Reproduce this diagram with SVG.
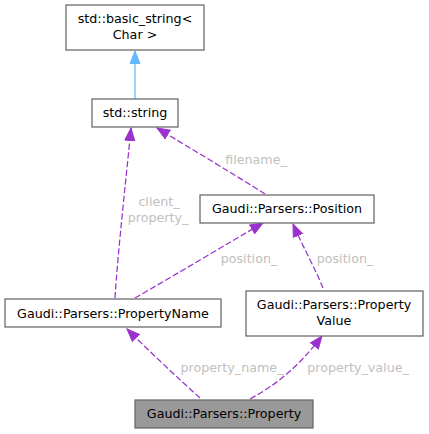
<svg xmlns="http://www.w3.org/2000/svg" width="429" height="434" viewBox="0 0 429 434">
<defs>
<style>
.node rect{fill:#ffffff;stroke:#666666;stroke-width:1.25}
.node.cur rect{fill:#999999}
text{font-family:"DejaVu Sans","Liberation Sans",sans-serif;font-size:12.7px;text-anchor:middle}
.node text{fill:#000000}
.lbl{fill:#c0c0c0}
.dep{fill:none;stroke:#9a32cd;stroke-width:1.25;stroke-dasharray:6.25,2.5}
.inh{fill:none;stroke:#63b8ff;stroke-width:1.25}
</style>
<marker id="ap" markerWidth="14" markerHeight="14" viewBox="0 0 14 12" refX="13" refY="6" orient="auto" markerUnits="userSpaceOnUse">
<path d="M0.5,1 L13,6 L0.5,11 Z" fill="#9a32cd" stroke="#9a32cd"/>
</marker>
<marker id="ab" markerWidth="14" markerHeight="14" viewBox="0 0 14 12" refX="13" refY="6" orient="auto" markerUnits="userSpaceOnUse">
<path d="M0.5,1 L13,6 L0.5,11 Z" fill="#63b8ff" stroke="#63b8ff"/>
</marker>
</defs>
<rect width="429" height="434" fill="#ffffff"/>
<g id="edges">
<path class="inh" d="M135,99 L135,51" marker-end="url(#ab)"/>
<path class="dep" d="M115,298 C118,250 126,180 131,128" marker-end="url(#ap)"/>
<text class="lbl" x="159" y="206">client_</text>
<text class="lbl" x="158" y="222">property_</text>
<path class="dep" d="M265,194 C240,178 190,148 157,128" marker-end="url(#ap)"/>
<text class="lbl" x="256" y="164">filename_</text>
<path class="dep" d="M135,298 C175,275 225,245 263,223" marker-end="url(#ap)"/>
<text class="lbl" x="249" y="263">position_</text>
<path class="dep" d="M323,288 C315,268 302,245 293,224" marker-end="url(#ap)"/>
<text class="lbl" x="345" y="263">position_</text>
<path class="dep" d="M200,398 C180,380 150,352 127,329" marker-end="url(#ap)"/>
<text class="lbl" x="232" y="372">property_name_</text>
<path class="dep" d="M250,399 C285,380 305,358 322,336" marker-end="url(#ap)"/>
<text class="lbl" x="358" y="372">property_value_</text>
</g>
<g id="node_basic_string" class="node">
<rect x="66" y="5" width="138" height="45"/>
<text x="135" y="23">std::basic_string&lt;</text>
<text x="135" y="39">Char &gt;</text>
</g>
<g id="node_string" class="node">
<rect x="92" y="99" width="86" height="28"/>
<text x="135" y="117">std::string</text>
</g>
<g id="node_position" class="node">
<rect x="200" y="195" width="174" height="28"/>
<text x="287" y="213">Gaudi::Parsers::Position</text>
</g>
<g id="node_propertyname" class="node">
<rect x="5" y="299" width="216" height="28"/>
<text x="113" y="317.5">Gaudi::Parsers::PropertyName</text>
</g>
<g id="node_propertyvalue" class="node">
<rect x="246" y="291" width="177" height="45"/>
<text x="334" y="309">Gaudi::Parsers::Property</text>
<text x="334" y="325">Value</text>
</g>
<g id="node_property" class="node cur">
<rect x="135" y="400" width="178" height="28"/>
<text x="224" y="418">Gaudi::Parsers::Property</text>
</g>
</svg>
